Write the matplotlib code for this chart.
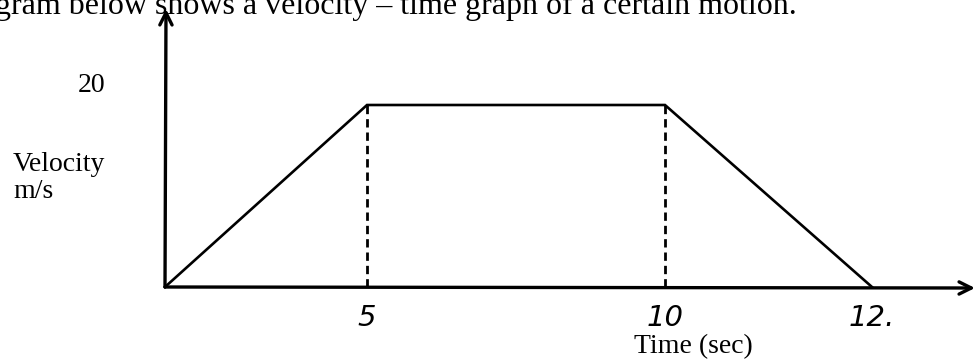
import numpy as np
import matplotlib.pyplot as plt

# ---- data ----
time_s = [0, 5, 10, 12]
velocity = [0, 20, 20, 0]
dashed_at = [5, 10]
x_tick_vals = [5, 10, 12]
x_tick_labels = ["5", "10", "12."]
y_tick_vals = [20]
y_tick_labels = ["20"]

title_text = "gram below shows a velocity \u2013 time graph of a certain motion."
x_label = "Time (sec)"
y_label = "Velocity\nm/s"

# the drawing is a sketch, not to scale: piecewise-linear time axis
scale_knots_t = [0, 5, 10, 12]
scale_knots_px = [0, 202, 500, 707]


def fwd(t):
    return np.interp(t, scale_knots_t, scale_knots_px)


def inv(p):
    return np.interp(p, scale_knots_px, scale_knots_t)


W, H = 976, 360
fig = plt.figure(figsize=(W / 100, H / 100), dpi=100)
fig.patch.set_facecolor("white")

ax = fig.add_axes([165 / W, 1 - 287 / H, (872 - 165) / W, (287 - 105) / H])
ax.set_xscale("function", functions=(fwd, inv))
ax.set_xlim(0, 12)
ax.set_ylim(0, 20)
for s in ax.spines.values():
    s.set_visible(False)
ax.set_facecolor("none")

serif = ["Liberation Serif", "DejaVu Serif"]

# graph line
ax.plot(time_s, velocity, color="black", lw=1.9, solid_joinstyle="miter", clip_on=False)

# dashed drop lines
for t in dashed_at:
    ax.plot([t, t], [0, 20], color="black", lw=2.0, ls=(0, (3.0, 1.8)), clip_on=False)

# axes with arrows
arrow_kw = dict(arrowstyle="->", lw=2.4, color="black",
                mutation_scale=22, shrinkA=0, shrinkB=0)
ax.annotate("", xy=(975 / W, 1 - 288 / H), xycoords="figure fraction",
            xytext=(0, 0), textcoords="data", arrowprops=arrow_kw)
ax.annotate("", xy=(166 / W, 1 - 9 / H), xycoords="figure fraction",
            xytext=(0, 0), textcoords="data", arrowprops=arrow_kw)

# handwritten-ish tick labels
ax.set_xticks(x_tick_vals)
ax.set_xticklabels(x_tick_labels, fontsize=21, style="italic",
                   family=["DejaVu Sans"], fontweight="light")
ax.tick_params(axis="x", length=0, pad=12)
ax.set_yticks([])

for v, lab in zip(y_tick_vals, y_tick_labels):
    ax.annotate(lab, xy=(0, v), xycoords="data", xytext=(-60, 19),
                textcoords="offset pixels", ha="right", va="center",
                fontsize=20, family=serif)

fig.text(13 / W, 1 - 178 / H, y_label, ha="left", va="center",
         fontsize=20, family=serif, linespacing=1.1)
fig.text(693 / W, 1 - 347 / H, x_label, ha="center", va="center",
         fontsize=20, family=serif)
fig.text(797 / W, 1 - 14 / H, title_text, ha="right", va="baseline",
         fontsize=23, family=serif)

fig.savefig("out.png", dpi=100)
